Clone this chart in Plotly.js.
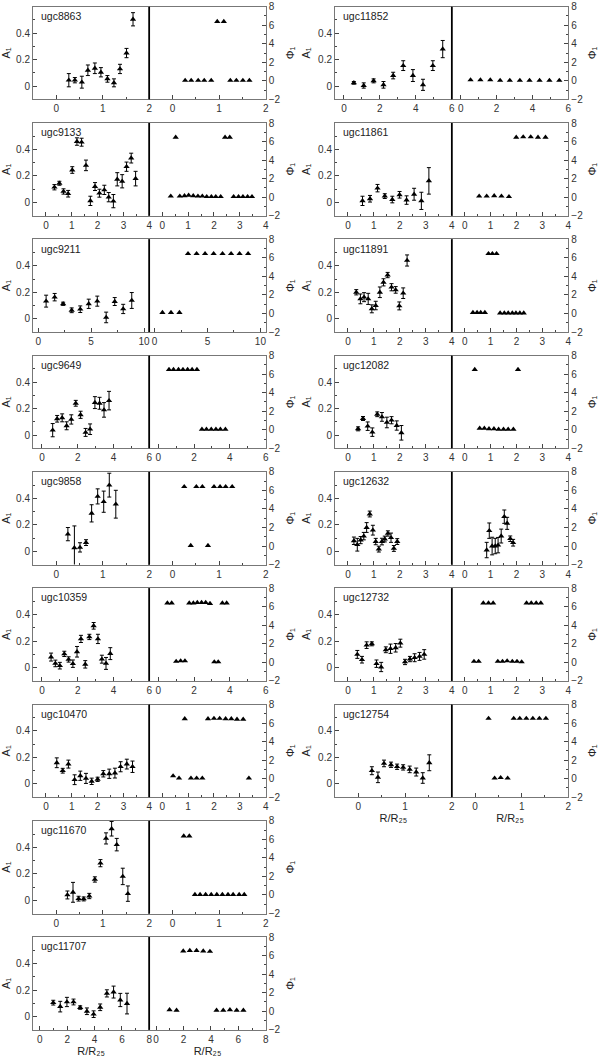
<!DOCTYPE html>
<html><head><meta charset="utf-8">
<script src="https://cdn.plot.ly/plotly-3.0.1.min.js"></script>
<style>html,body{margin:0;padding:0;background:#fff}#chart{width:600px;height:1061px}</style>
</head><body><div id="chart"></div>
<script>
// ---------------- data (R/R25, A1, error on A1, phase Phi1) ----------------
const r_8863   = [0.27,0.40,0.55,0.68,0.83,0.96,1.10,1.24,1.37,1.51,1.65];
const a1_8863  = [0.045,0.045,0.03,0.12,0.135,0.105,0.055,0.025,0.13,0.25,0.505];
const e_8863   = [0.05,0.02,0.045,0.04,0.04,0.035,0.025,0.03,0.035,0.035,0.05];
const phi_8863 = [0.05,0.05,0.05,0.05,0.05,6.4,6.4,0.05,0.05,0.05,0.05];

const r_9133   = [0.33,0.52,0.68,0.86,1.02,1.20,1.38,1.55,1.72,1.90,2.07,2.26,2.43,2.61,2.76,2.95,3.12,3.30,3.47];
const a1_9133  = [0.115,0.145,0.083,0.066,0.245,0.46,0.455,0.28,0.012,0.12,0.07,0.095,0.04,0.01,0.175,0.16,0.27,0.335,0.18];
const e_9133   = [0.02,0.015,0.02,0.025,0.025,0.028,0.03,0.04,0.035,0.03,0.03,0.035,0.035,0.05,0.05,0.05,0.035,0.037,0.055];
const phi_9133 = [0.1,6.45,0.1,0.15,0.2,0.15,0.1,0.1,0.05,0.05,0.05,0.05,6.45,6.45,0.05,0.05,0.05,0.05,0.05];

const r_9211   = [0.74,1.55,2.35,3.16,3.97,4.77,5.58,6.42,7.23,8.03,8.84];
const a1_9211  = [0.133,0.163,0.113,0.064,0.072,0.113,0.133,0.01,0.13,0.074,0.138];
const e_9211   = [0.045,0.028,0.012,0.018,0.025,0.035,0.038,0.04,0.03,0.035,0.06];
const phi_9211 = [0.1,0.1,0.1,6.45,6.45,6.45,6.45,6.45,6.45,6.45,6.45];

const r_9649   = [0.6,0.85,1.13,1.38,1.64,1.89,2.16,2.44,2.69,2.96,3.22,3.47,3.75];
const a1_9649  = [0.037,0.123,0.13,0.07,0.118,0.24,0.153,0.02,0.044,0.245,0.24,0.19,0.26];
const e_9649   = [0.05,0.025,0.03,0.03,0.035,0.022,0.027,0.03,0.04,0.045,0.045,0.055,0.07];
const phi_9649 = [6.5,6.5,6.5,6.5,6.5,6.5,6.5,0.05,0.05,0.05,0.05,0.05,0.05];

const r_9858   = [0.25,0.39,0.51,0.64,0.76,0.89,1.02,1.14,1.28];
const a1_9858  = [0.13,0.027,0.03,0.066,0.287,0.415,0.375,0.5,0.356];
const e_9858   = [0.05,0.165,0.035,0.022,0.065,0.057,0.08,0.09,0.105];
const phi_9858 = [6.4,0.05,6.4,6.4,0.05,6.4,6.4,6.4,6.4];

const r_10359   = [0.51,0.75,1.0,1.25,1.49,1.73,1.96,2.18,2.42,2.65,2.89,3.13,3.35,3.58,3.82];
const a1_10359  = [0.08,0.032,0.015,0.104,0.062,0.03,0.12,0.217,0.025,0.232,0.316,0.217,0.064,0.032,0.106];
const e_10359   = [0.03,0.025,0.025,0.02,0.02,0.028,0.04,0.027,0.028,0.02,0.025,0.035,0.03,0.045,0.045];
const phi_10359 = [6.4,6.4,0.1,0.15,0.15,6.4,6.4,6.45,6.45,6.45,6.35,0.05,0.05,6.4,6.4];

const r_10470   = [0.42,0.65,0.87,1.11,1.33,1.55,1.77,2.0,2.22,2.45,2.67,2.89,3.13,3.35];
const a1_10470  = [0.16,0.10,0.15,0.032,0.062,0.042,0.02,0.035,0.077,0.077,0.082,0.13,0.15,0.13];
const e_10470   = [0.037,0.018,0.03,0.037,0.035,0.038,0.024,0.016,0.024,0.035,0.037,0.038,0.037,0.043];
const phi_10470 = [0.3,0.05,6.45,0.05,0.05,0.05,6.45,6.5,6.5,6.45,6.45,6.4,6.4,0.05];

const r_11670   = [0.24,0.36,0.48,0.59,0.71,0.83,0.95,1.07,1.19,1.30,1.43,1.54];
const a1_11670  = [0.04,0.06,0.012,0.01,0.032,0.157,0.28,0.467,0.54,0.42,0.18,0.05];
const e_11670   = [0.03,0.075,0.018,0.015,0.02,0.02,0.027,0.042,0.055,0.047,0.062,0.058];
const phi_11670 = [6.35,6.35,0.05,0.05,0.05,0.05,0.05,0.05,0.05,0.05,0.05,0.05];

const r_11707   = [0.98,1.49,1.98,2.46,2.95,3.44,3.93,4.41,4.90,5.39,5.88,6.37];
const a1_11707  = [0.105,0.075,0.11,0.11,0.068,0.04,0.018,0.07,0.175,0.185,0.125,0.098];
const e_11707   = [0.018,0.04,0.035,0.022,0.013,0.025,0.025,0.025,0.027,0.045,0.05,0.078];
const phi_11707 = [0.15,0.1,6.5,6.55,6.55,6.5,6.45,0.1,0.1,0.15,0.1,0.1];

const r_11852   = [0.55,1.1,1.65,2.2,2.74,3.3,3.84,4.4,4.95,5.5];
const a1_11852  = [0.025,0.005,0.04,0.01,0.08,0.155,0.08,0.01,0.155,0.28];
const e_11852   = [0.01,0.02,0.015,0.025,0.025,0.037,0.045,0.042,0.037,0.065];
const phi_11852 = [0.1,0.1,0.1,0.05,0.05,0.05,0.05,0.05,0.05,0.05];

const r_11861   = [0.56,0.85,1.14,1.42,1.71,1.99,2.26,2.55,2.83,3.12];
const a1_11861  = [0.012,0.028,0.108,0.048,0.022,0.058,0.018,0.062,0.012,0.163];
const e_11861   = [0.035,0.025,0.028,0.018,0.025,0.025,0.032,0.045,0.065,0.1];
const phi_11861 = [0.1,0.1,0.15,0.1,0.05,6.45,6.5,6.5,6.45,6.45];

const r_11891   = [0.32,0.48,0.62,0.78,0.92,1.07,1.23,1.37,1.53,1.68,1.84,1.98,2.13,2.28];
const a1_11891  = [0.2,0.15,0.163,0.15,0.075,0.1,0.2,0.275,0.33,0.238,0.218,0.097,0.193,0.44];
const e_11891   = [0.02,0.037,0.034,0.042,0.03,0.032,0.04,0.027,0.02,0.027,0.025,0.03,0.04,0.042];
const phi_11891 = [0.1,0.1,0.1,0.1,6.45,6.45,6.45,0.05,0.05,0.05,0.05,0.05,0.05,0.05];

const r_12082   = [0.39,0.58,0.76,0.94,1.13,1.31,1.5,1.68,1.88,2.06];
const a1_12082  = [0.047,0.125,0.067,0.022,0.157,0.137,0.095,0.112,0.072,0.017];
const e_12082   = [0.015,0.015,0.032,0.032,0.018,0.033,0.04,0.027,0.035,0.055];
const phi_12082 = [6.5,0.15,0.15,0.1,0.1,0.05,0.05,0.05,0.05,6.5];

const r_12632     = [0.23,0.36,0.49,0.61,0.72,0.84,0.96,1.07,1.19,1.31,1.42,1.54,1.66,1.77,1.9];
const a1_12632    = [0.08,0.05,0.085,0.115,0.18,0.282,0.16,0.074,0.017,0.074,0.093,0.135,0.103,0.022,0.074];
const e_12632     = [0.028,0.048,0.027,0.028,0.037,0.022,0.037,0.024,0.022,0.025,0.022,0.02,0.035,0.022,0.022];
const rphi_12632  = [0.85,0.95,1.06,1.18,1.29,1.41,1.53,1.64,1.76,1.87];
const phi_12632   = [-0.43,1.66,0,0,0.1,1.08,3.17,2.45,0.79,0.36];
const ephi_12632  = [0.83,0.83,0.95,0.83,0.83,0.75,0.72,0.65,0.3,0.36];

const r_12732   = [0.36,0.54,0.72,0.92,1.1,1.28,1.46,1.64,1.84,2.02,2.2,2.39,2.57,2.76,2.94];
const a1_12732  = [0.1,0.06,0.17,0.18,0.03,0.005,0.135,0.143,0.15,0.185,0.043,0.065,0.075,0.085,0.1];
const e_12732   = [0.03,0.025,0.025,0.015,0.028,0.035,0.022,0.035,0.032,0.03,0.02,0.02,0.03,0.03,0.036];
const phi_12732 = [0.1,0.1,6.4,6.4,6.4,0.1,0.1,0.15,0.1,0.1,0.05,6.4,6.4,6.4,6.4];

const r_12754   = [0.29,0.42,0.55,0.70,0.83,0.96,1.10,1.24,1.38,1.52];
const a1_12754  = [0.1,0.05,0.155,0.145,0.13,0.125,0.11,0.09,0.045,0.16];
const e_12754   = [0.03,0.04,0.025,0.02,0.02,0.02,0.025,0.03,0.04,0.06];
const phi_12754 = [6.5,0.05,0.1,0.05,6.5,6.5,6.5,6.5,6.5,6.5];

// axis title texts
const titleA1 = 'A\u2081';
const titlePhi = '\u03A6\u2081';
const titleR = 'R/R\u2082\u2085';

// ---------------- panel table (built from the arrays) ----------------
const panels = [
  {name:'ugc8863',  r:r_8863,  a1:a1_8863,  e:e_8863,  rp:r_8863,  phi:phi_8863,  xmax:2,  col:0},
  {name:'ugc9133',  r:r_9133,  a1:a1_9133,  e:e_9133,  rp:r_9133,  phi:phi_9133,  xmax:4,  col:0},
  {name:'ugc9211',  r:r_9211,  a1:a1_9211,  e:e_9211,  rp:r_9211,  phi:phi_9211,  xmax:10.5, col:0},
  {name:'ugc9649',  r:r_9649,  a1:a1_9649,  e:e_9649,  rp:r_9649,  phi:phi_9649,  xmax:6,  col:0},
  {name:'ugc9858',  r:r_9858,  a1:a1_9858,  e:e_9858,  rp:r_9858,  phi:phi_9858,  xmax:2,  col:0},
  {name:'ugc10359', r:r_10359, a1:a1_10359, e:e_10359, rp:r_10359, phi:phi_10359, xmax:6,  col:0},
  {name:'ugc10470', r:r_10470, a1:a1_10470, e:e_10470, rp:r_10470, phi:phi_10470, xmax:4,  col:0},
  {name:'ugc11670', r:r_11670, a1:a1_11670, e:e_11670, rp:r_11670, phi:phi_11670, xmax:2,  col:0},
  {name:'ugc11707', r:r_11707, a1:a1_11707, e:e_11707, rp:r_11707, phi:phi_11707, xmax:8,  col:0},
  {name:'ugc11852', r:r_11852, a1:a1_11852, e:e_11852, rp:r_11852, phi:phi_11852, xmax:6,  col:1},
  {name:'ugc11861', r:r_11861, a1:a1_11861, e:e_11861, rp:r_11861, phi:phi_11861, xmax:4,  col:1},
  {name:'ugc11891', r:r_11891, a1:a1_11891, e:e_11891, rp:r_11891, phi:phi_11891, xmax:4,  col:1},
  {name:'ugc12082', r:r_12082, a1:a1_12082, e:e_12082, rp:r_12082, phi:phi_12082, xmax:4,  col:1},
  {name:'ugc12632', r:r_12632, a1:a1_12632, e:e_12632, rp:rphi_12632, phi:phi_12632, ephi:ephi_12632, xmax:4, col:1},
  {name:'ugc12732', r:r_12732, a1:a1_12732, e:e_12732, rp:r_12732, phi:phi_12732, xmax:4,  col:1},
  {name:'ugc12754', r:r_12754, a1:a1_12754, e:e_12754, rp:r_12754, phi:phi_12754, xmax:2,  col:1}
];

// ---------------- layout geometry ----------------
const W = 600, H = 1061;
const colX = [[33, 149.3, 265.7], [335, 451.7, 568.3]];
const top0 = 6.7, rowStep = 116.3, ph = 92.7;
const FONT = 'Liberation Sans, Arial, Helvetica, sans-serif';
const tickFont = {family: FONT, size: 10, color: '#333'};
const titleFont = {family: FONT, size: 11, color: '#222'};

const layout = {
  width: W, height: H, margin: {l: 0, r: 0, t: 0, b: 0},
  showlegend: false, paper_bgcolor: '#fff', plot_bgcolor: '#fff',
  font: {family: FONT, size: 10, color: '#222'},
  shapes: [], annotations: []
};
const traces = [];
const rowCount = [0, 0];
const lastRow = [panels.filter(p => p.col === 0).length - 1, panels.filter(p => p.col === 1).length - 1];
let n = 0;
const sfx = k => (k === 1 ? '' : String(k));

function xDtick(xmax) { return xmax > 8 ? 5 : (xmax > 4 ? 2 : 1); }

panels.forEach(p => {
  const row = rowCount[p.col]++;
  const [xa, xm, xb] = colX[p.col];
  const t = top0 + rowStep * row, b = t + ph;
  const yd = [1 - b / H, 1 - t / H];
  const i1 = ++n, i2 = ++n;
  const showXT = row === lastRow[p.col];
  const dt = xDtick(p.xmax);
  const xCommon = {
    range: [-0.5, p.xmax], dtick: dt, tick0: 0, ticks: 'inside', ticklen: 4, tickcolor: '#444',
    minor: {ticks: 'inside', ticklen: 2, dtick: dt / 2, tickcolor: '#444'},
    showline: true, mirror: true, linecolor: '#777', linewidth: 1,
    showgrid: false, zeroline: false, tickfont: tickFont, automargin: false
  };
  const xl = Object.assign({}, xCommon, {domain: [xa / W, xm / W], anchor: 'y' + sfx(i1)});
  const xr = Object.assign({}, xCommon, {domain: [xm / W, xb / W], anchor: 'y' + sfx(i2)});
  if (showXT) {
    xl.title = {text: titleR, font: titleFont, standoff: 2};
    xr.title = {text: titleR, font: titleFont, standoff: 2};
  }
  layout['xaxis' + sfx(i1)] = xl;
  layout['xaxis' + sfx(i2)] = xr;
  layout['yaxis' + sfx(i1)] = {
    domain: yd, anchor: 'x' + sfx(i1), range: [-0.1, 0.6],
    tickvals: [0, 0.2, 0.4], ticktext: ['0', '0.2', '0.4'],
    ticks: 'inside', ticklen: 4, tickcolor: '#444',
    minor: {ticks: 'inside', ticklen: 2, tickvals: [-0.1, 0.1, 0.3, 0.5], tickcolor: '#444'},
    showline: true, mirror: true, linecolor: '#777', linewidth: 1,
    showgrid: false, zeroline: false, tickfont: tickFont, automargin: false,
    title: {text: titleA1, font: titleFont, standoff: 5}
  };
  layout['yaxis' + sfx(i2)] = {
    domain: yd, anchor: 'x' + sfx(i2), side: 'right', range: [-2, 8], dtick: 2, tick0: 0,
    ticks: 'inside', ticklen: 4, tickcolor: '#444',
    minor: {ticks: 'inside', ticklen: 2, dtick: 1, tickcolor: '#444'},
    showline: true, mirror: true, linecolor: '#777', linewidth: 1,
    showgrid: false, zeroline: false, tickfont: tickFont, automargin: false,
    title: {text: titlePhi, font: titleFont, standoff: 6}
  };
  // divider between the A1 and Phi1 boxes
  layout.shapes.push({type: 'line', xref: 'paper', yref: 'paper', x0: xm / W, x1: xm / W, y0: yd[0], y1: yd[1],
    line: {color: '#000', width: 1.5}});
  layout.annotations.push({text: p.name, xref: 'x' + sfx(i1) + ' domain', yref: 'y' + sfx(i1) + ' domain',
    x: 0.05, y: 0.9, xanchor: 'left', yanchor: 'middle', showarrow: false,
    font: {family: FONT, size: 10.5, color: '#222'}});

  const mk = {symbol: 'triangle-up', size: 5.5, color: '#000'};
  traces.push({type: 'scatter', mode: 'markers', x: p.r, y: p.a1, xaxis: 'x' + sfx(i1), yaxis: 'y' + sfx(i1),
    marker: mk, error_y: {type: 'data', array: p.e, visible: true, color: '#000', thickness: 1, width: 2},
    hoverinfo: 'skip'});
  const tr2 = {type: 'scatter', mode: 'markers', x: p.rp, y: p.phi, xaxis: 'x' + sfx(i2), yaxis: 'y' + sfx(i2),
    marker: mk, hoverinfo: 'skip'};
  if (p.ephi) tr2.error_y = {type: 'data', array: p.ephi, visible: true, color: '#000', thickness: 1, width: 2};
  traces.push(tr2);
});

Plotly.newPlot('chart', traces, layout, {staticPlot: true, displayModeBar: false});
</script>
</body></html>
